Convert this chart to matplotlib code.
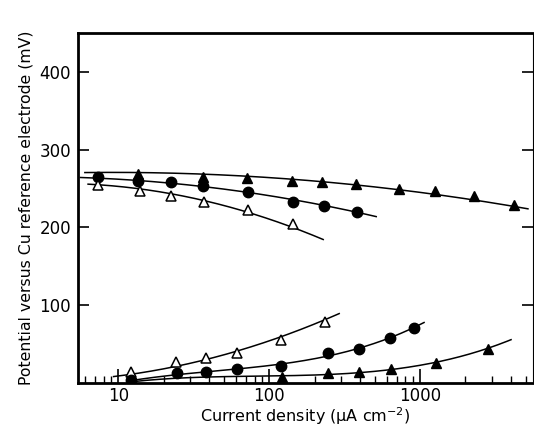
import numpy as np
import matplotlib
matplotlib.use("Agg")
import matplotlib.pyplot as plt
from matplotlib.ticker import LogLocator, NullFormatter, FixedLocator

# data (current density in uA/cm2, potential in mV)
# upper (anodic) branches
up_tri_x = [13.6, 36.5, 71.5, 142, 224, 377, 726, 1256, 2280, 4200]
up_tri_y = [269, 265, 263, 260, 259, 256, 250, 247, 240, 229]
up_dot_x = [7.3, 13.6, 22.4, 36.5, 72.6, 144, 231, 383]
up_dot_y = [265, 260, 258, 253, 245.5, 233, 228, 220.5]
up_open_x = [7.3, 14.0, 22.4, 37.1, 72.6, 144]
up_open_y = [254, 247, 241, 233, 223, 205]

# lower (cathodic) branches
lo_open_x = [12.2, 24.2, 38.3, 61.4, 120, 235]
lo_open_y = [14, 27, 32, 38.5, 56, 78]
lo_dot_x = [12.2, 24.6, 38.3, 61.4, 120, 246, 394, 632, 912]
lo_dot_y = [4, 13, 14, 18, 22, 38.5, 44, 58, 71]
lo_tri_x = [122, 246, 394, 643, 1276, 2820]
lo_tri_y = [7.7, 13, 14, 18, 25.6, 44]

# start and end points of each hand-drawn curve, (x, y)
up_tri_ends = [(6.0, 271), (5190, 223)]
up_dot_ends = [(5.6, 264), (512, 214)]
up_open_ends = [(6.3, 256), (228, 184)]
lo_open_ends = [(9.3, 8), (291, 90)]
lo_dot_ends = [(12.0, 3), (1063, 78)]
lo_tri_ends = [(12.5, 2), (4010, 56)]

fig = plt.figure(figsize=(5.34, 4.32), dpi=100)
ax = fig.add_axes([0.146, 0.113, 0.852, 0.811])


def curve(xs, ys, ends, deg=2):
    px = list(xs) + [e[0] for e in ends]
    py = list(ys) + [e[1] for e in ends]
    w = [1] * len(xs) + [3, 3]
    p = np.polyfit(np.log10(px), py, deg, w=w)
    xx = np.linspace(np.log10(ends[0][0]), np.log10(ends[1][0]), 200)
    ax.plot(10 ** xx, np.polyval(p, xx), color="black", lw=1.1, zorder=2)


curve(up_tri_x, up_tri_y, up_tri_ends)
curve(up_dot_x, up_dot_y, up_dot_ends)
curve(up_open_x, up_open_y, up_open_ends)
curve(lo_open_x, lo_open_y, lo_open_ends)
curve(lo_dot_x, lo_dot_y, lo_dot_ends, deg=3)
curve(lo_tri_x, lo_tri_y, lo_tri_ends, deg=3)

tri = dict(marker="^", ms=7, color="black", ls="none", zorder=3)
dot = dict(marker="o", ms=7.5, color="black", ls="none", zorder=3)
opn = dict(marker="^", ms=7, mfc="white", mec="black", mew=1.1, ls="none", zorder=3)

ax.plot(up_tri_x, up_tri_y, **tri)
ax.plot(up_dot_x, up_dot_y, **dot)
ax.plot(up_open_x, up_open_y, **opn)
ax.plot(lo_open_x, lo_open_y, **opn)
ax.plot(lo_dot_x, lo_dot_y, **dot)
ax.plot(lo_tri_x, lo_tri_y, **tri)

ax.set_xscale("log")
ax.set_xlim(5.4, 5600)
ax.set_ylim(0, 450)

ax.xaxis.set_major_locator(FixedLocator([10, 100, 1000]))
ax.set_xticklabels(["10", "100", "1000"])
ax.xaxis.set_minor_locator(LogLocator(base=10, subs=np.arange(2, 10)))
ax.xaxis.set_minor_formatter(NullFormatter())
ax.set_yticks([100, 200, 300, 400])

ax.tick_params(axis="x", which="major", direction="in", length=10, width=1.2,
               labelsize=12, pad=3, top=False)
ax.tick_params(axis="x", which="minor", direction="in", length=5, width=1, top=False)
ax.tick_params(axis="y", which="major", direction="in", length=8, width=1.2,
               labelsize=12, right=True, pad=5)

for s in ["left", "bottom", "top"]:
    ax.spines[s].set_linewidth(2)
ax.spines["right"].set_linewidth(0.8)

ax.set_xlabel("Current density (\u03bcA cm$^{-2}$)", fontsize=11.5, labelpad=0)
ax.set_ylabel("Potential versus Cu reference electrode (mV)", fontsize=11.3, labelpad=4)

fig.savefig("out.png", dpi=100)
